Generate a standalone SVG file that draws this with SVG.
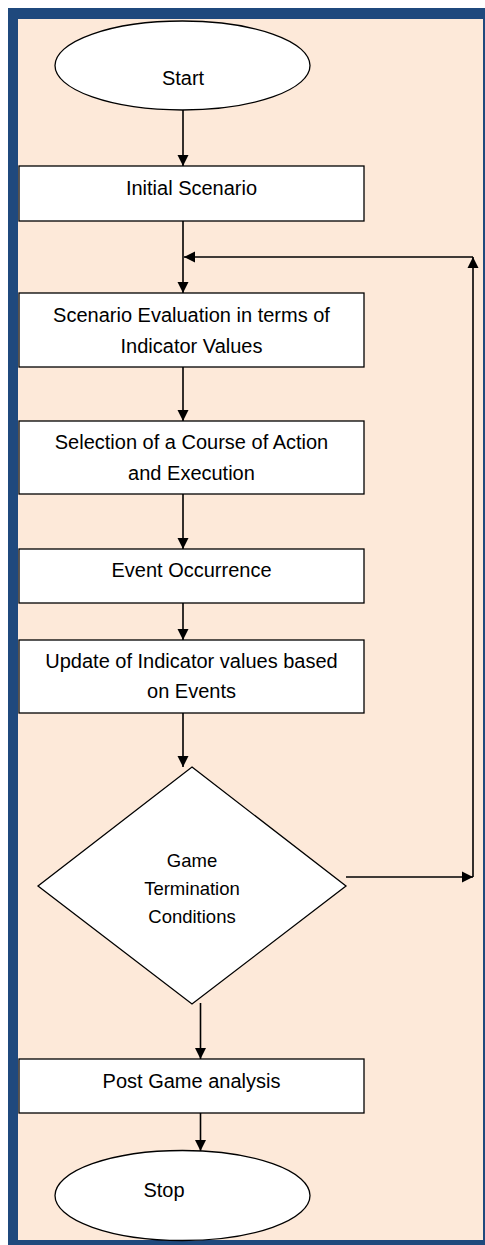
<svg xmlns="http://www.w3.org/2000/svg" width="485" height="1245" viewBox="0 0 485 1245">
<style>
.shape{fill:#ffffff;stroke:#000000;stroke-width:1.3}
.t{font-family:"Liberation Sans",Arial,sans-serif;font-size:20px;fill:#000000;text-anchor:middle}
.ts{font-family:"Liberation Sans",Arial,sans-serif;font-size:18.5px;fill:#000000;text-anchor:middle}
.c{fill:none;stroke:#000000;stroke-width:1.6}
</style>
<defs>
<marker id="ah" viewBox="0 0 10 10" refX="10" refY="5" markerWidth="7" markerHeight="7" markerUnits="strokeWidth" orient="auto">
<path d="M0,0 L10,5 L0,10 z" fill="#000000"/>
</marker>
</defs>
<rect x="0" y="0" width="485" height="1245" fill="#ffffff"/>
<rect x="8" y="8" width="480" height="1240" fill="#1F497D"/>
<rect x="18" y="19" width="465" height="1221" fill="#FDE9D9"/>
<g id="start">
<ellipse class="shape" cx="182.5" cy="65.5" rx="127.5" ry="44.5"/>
<text class="t" x="183" y="85">Start</text>
</g>
<g id="initial">
<rect class="shape" x="19" y="166" width="345" height="55"/>
<text class="t" x="191.5" y="195">Initial Scenario</text>
</g>
<g id="evaluation">
<rect class="shape" x="19" y="293" width="345" height="74"/>
<text class="t" x="191.5" y="322">Scenario Evaluation in terms of</text>
<text class="t" x="191.5" y="353">Indicator Values</text>
</g>
<g id="selection">
<rect class="shape" x="19" y="421" width="345" height="73"/>
<text class="t" x="191.5" y="449">Selection of a Course of Action</text>
<text class="t" x="191.5" y="480">and Execution</text>
</g>
<g id="event">
<rect class="shape" x="19" y="549" width="345" height="54"/>
<text class="t" x="191.5" y="577">Event Occurrence</text>
</g>
<g id="update">
<rect class="shape" x="19" y="640" width="345" height="73"/>
<text class="t" x="191.5" y="668">Update of Indicator values based</text>
<text class="t" x="191.5" y="698">on Events</text>
</g>
<g id="decision">
<polygon class="shape" points="192,767 346,886 192,1004 38,886"/>
<text class="ts" x="192" y="867">Game</text>
<text class="ts" x="192" y="895">Termination</text>
<text class="ts" x="192" y="923">Conditions</text>
</g>
<g id="post">
<rect class="shape" x="19" y="1059" width="345" height="54"/>
<text class="t" x="191.5" y="1088">Post Game analysis</text>
</g>
<g id="stop">
<ellipse class="shape" cx="182.5" cy="1195.5" rx="127.5" ry="45"/>
<text class="t" x="164" y="1197">Stop</text>
</g>
<g id="connectors">
<line class="c" x1="183" y1="110" x2="183" y2="166" marker-end="url(#ah)"/>
<line class="c" x1="183" y1="221" x2="183" y2="293" marker-end="url(#ah)"/>
<line class="c" x1="183" y1="367" x2="183" y2="421" marker-end="url(#ah)"/>
<line class="c" x1="183" y1="494" x2="183" y2="549" marker-end="url(#ah)"/>
<line class="c" x1="183" y1="603" x2="183" y2="640" marker-end="url(#ah)"/>
<line class="c" x1="183" y1="713" x2="183" y2="767" marker-end="url(#ah)"/>
<line class="c" x1="346" y1="877" x2="473" y2="877" marker-end="url(#ah)"/>
<line class="c" x1="473" y1="877" x2="473" y2="257" marker-end="url(#ah)"/>
<line class="c" x1="473" y1="257" x2="184" y2="257" marker-end="url(#ah)"/>
<line class="c" x1="200.5" y1="1003" x2="200.5" y2="1059" marker-end="url(#ah)"/>
<line class="c" x1="200.5" y1="1113" x2="200.5" y2="1151" marker-end="url(#ah)"/>
</g>
</svg>
